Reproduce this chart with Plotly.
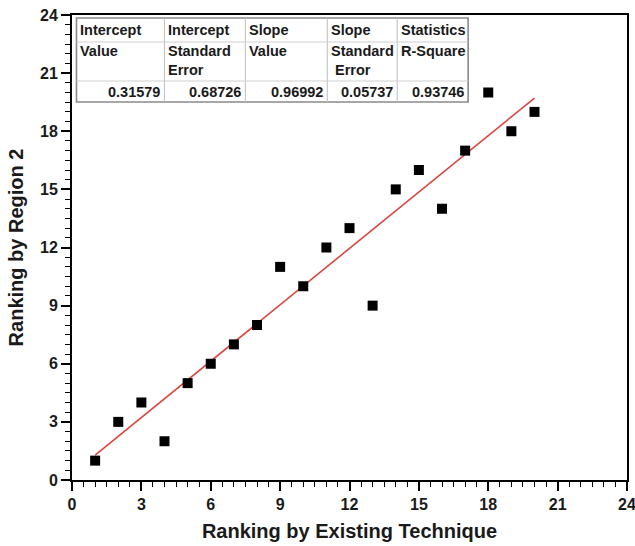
import plotly.graph_objects as go

# Rankings of 20 items: existing technique vs. region 2
rank_existing = [1, 2, 3, 4, 5, 6, 7, 8, 9, 10, 11, 12, 13, 14, 15, 16, 17, 18, 19, 20]
rank_region2 = [1, 3, 4, 2, 5, 6, 7, 8, 11, 10, 12, 13, 9, 15, 16, 14, 17, 20, 18, 19]

# Linear fit results shown in the table
fit_header_top = ["Intercept", "Intercept", "Slope", "Slope", "Statistics"]
fit_header_sub = ["Value", "Standard<br>Error", "Value", "Standard<br> Error", "R-Square"]
fit_values = [0.31579, 0.68726, 0.96992, 0.05737, 0.93746]

intercept = fit_values[0]
slope = fit_values[2]
x_fit = [min(rank_existing), max(rank_existing)]
y_fit = [intercept + slope * x for x in x_fit]

FONT = "Liberation Sans, Arial, sans-serif"

fig = go.Figure()
fig.add_trace(go.Scatter(
    x=x_fit, y=y_fit, mode="lines",
    line=dict(color="#d9463f", width=1.6),
    showlegend=False, hoverinfo="skip",
))
fig.add_trace(go.Scatter(
    x=rank_existing, y=rank_region2, mode="markers",
    marker=dict(symbol="square", size=10, color="black", line=dict(width=0)),
    showlegend=False,
))

axis_common = dict(
    range=[0, 24], tick0=0, dtick=3,
    showgrid=False, zeroline=False,
    showline=True, linecolor="black", linewidth=2, mirror=True,
    ticks="outside", ticklen=9, tickwidth=1.6, tickcolor="black",
    minor=dict(ticks="outside", ticklen=5, tickwidth=1.4, tickcolor="black", dtick=0.5, showgrid=False),
    tickfont=dict(family=FONT, size=16, color="#1a1a1a", weight="bold"),
    ticklabeloverflow="allow",
)

fig.update_xaxes(
    **axis_common,
    title=dict(text="<b>Ranking by Existing Technique</b>",
               font=dict(family=FONT, size=20, color="#1a1a1a"), standoff=12),
)
fig.update_yaxes(
    **axis_common,
    title=dict(text="<b>Ranking by Region 2</b>",
               font=dict(family=FONT, size=20, color="#1a1a1a"), standoff=11),
)

# Fit-result table drawn in pixel-derived paper coordinates
PL, PR, PT, PB = 71.5, 627.0, 15.0, 480.0


def px_x(v):
    return (v - PL) / (PR - PL)


def px_y(v):
    return (PB - v) / (PB - PT)


col_edges = [76, 164, 245, 327, 397, 468]
row_edges = [18, 42, 81, 102]

shapes = []
# table background and outer border
shapes.append(dict(type="rect", xref="paper", yref="paper",
                   x0=px_x(col_edges[0]), x1=px_x(col_edges[-1]),
                   y0=px_y(row_edges[-1]), y1=px_y(row_edges[0]),
                   fillcolor="white", line=dict(color="#8a8a8a", width=1.6), layer="above"))
for c in col_edges[1:-1]:
    shapes.append(dict(type="line", xref="paper", yref="paper",
                       x0=px_x(c), x1=px_x(c), y0=px_y(row_edges[-1]), y1=px_y(row_edges[0]),
                       line=dict(color="#bdbdbd", width=1), layer="above"))
for r in row_edges[1:-1]:
    shapes.append(dict(type="line", xref="paper", yref="paper",
                       x0=px_x(col_edges[0]), x1=px_x(col_edges[-1]), y0=px_y(r), y1=px_y(r),
                       line=dict(color="#cfcfcf", width=1), layer="above"))
fig.update_layout(shapes=shapes)

ann_font = dict(family=FONT, size=14.5, color="#1a1a1a")
for i in range(5):
    left = col_edges[i]
    right = col_edges[i + 1]
    fig.add_annotation(xref="paper", yref="paper", x=px_x(left + 2), y=px_y(30),
                       text="<b>%s</b>" % fit_header_top[i], showarrow=False,
                       xanchor="left", yanchor="middle", font=ann_font)
    fig.add_annotation(xref="paper", yref="paper", x=px_x(left + 2), y=px_y(41),
                       text="<b>%s</b>" % fit_header_sub[i], showarrow=False,
                       xanchor="left", yanchor="top", align="left", font=ann_font)
    fig.add_annotation(xref="paper", yref="paper", x=px_x(right - 2), y=px_y(92),
                       text="<b>%.5f</b>" % fit_values[i], showarrow=False,
                       xanchor="right", yanchor="middle", font=ann_font)

fig.update_layout(
    width=635, height=546,
    margin=dict(l=71.5, r=8, t=15, b=66, autoexpand=False),
    paper_bgcolor="white", plot_bgcolor="white",
    font=dict(family=FONT),
)

fig.write_html("out.html")
